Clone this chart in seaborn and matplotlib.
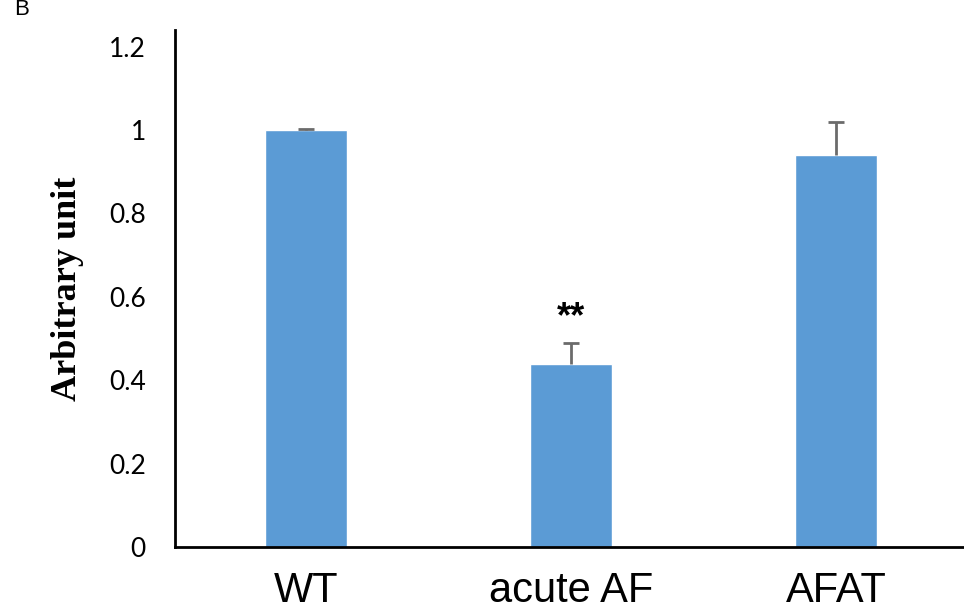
import matplotlib
matplotlib.use("Agg")
import matplotlib.pyplot as plt
import seaborn as sns
import pandas as pd

# data
groups = ['WT', 'acute AF', 'AFAT']
values = [1.0, 0.44, 0.94]
errors = [0.002, 0.05, 0.08]
yticks = [0, 0.2, 0.4, 0.6, 0.8, 1, 1.2]
ytick_labels = ['0', '0.2', '0.4', '0.6', '0.8', '1', '1.2']

sns.set_style('white')
df = pd.DataFrame({'group': groups, 'value': values})

fig = plt.figure(figsize=(9.64, 6.15), dpi=100)
ax = fig.add_axes([0.1815, 0.1106, 0.818, 0.8406])

sns.barplot(data=df, x='group', y='value', color='#5B9BD5', width=0.31,
            saturation=1, ax=ax, errorbar=None)
# only upper error bars, no cap at the bar top
_, caps, _ = ax.errorbar(range(len(groups)), values, yerr=[[0] * len(errors), errors],
                         fmt='none', ecolor='#6b6b6b', elinewidth=2, capsize=6, capthick=2)
caps[0].set_visible(False)

# significance mark
ax.text(1, values[1] + errors[1] + 0.06, '**', ha='center', va='center',
        fontsize=26, fontweight='bold', family='Liberation Sans', color='black')

ax.set_xlim(-0.494, 2.48)
ax.set_ylim(0, 1.24)
ax.set_yticks(yticks)
ax.set_yticklabels(ytick_labels, family='Lato', fontsize=19, color='black')
ax.set_xticks(range(len(groups)))
ax.set_xticklabels(groups, family='Liberation Sans', fontsize=30, color='black')
ax.tick_params(axis='y', length=0, pad=21)
ax.tick_params(axis='x', length=0, pad=17)
ax.set_xlabel('')
ax.set_ylabel('Arbitrary unit', family='Liberation Serif', fontweight='bold',
              fontsize=26, labelpad=18, color='black')

for s in ['top', 'right']:
    ax.spines[s].set_visible(False)
for s in ['left', 'bottom']:
    ax.spines[s].set_color('black')
    ax.spines[s].set_linewidth(2)

fig.text(0.015, 0.985, 'B', fontsize=16, family='Liberation Sans', va='center', color='black')

plt.savefig('out.png', dpi=100)
